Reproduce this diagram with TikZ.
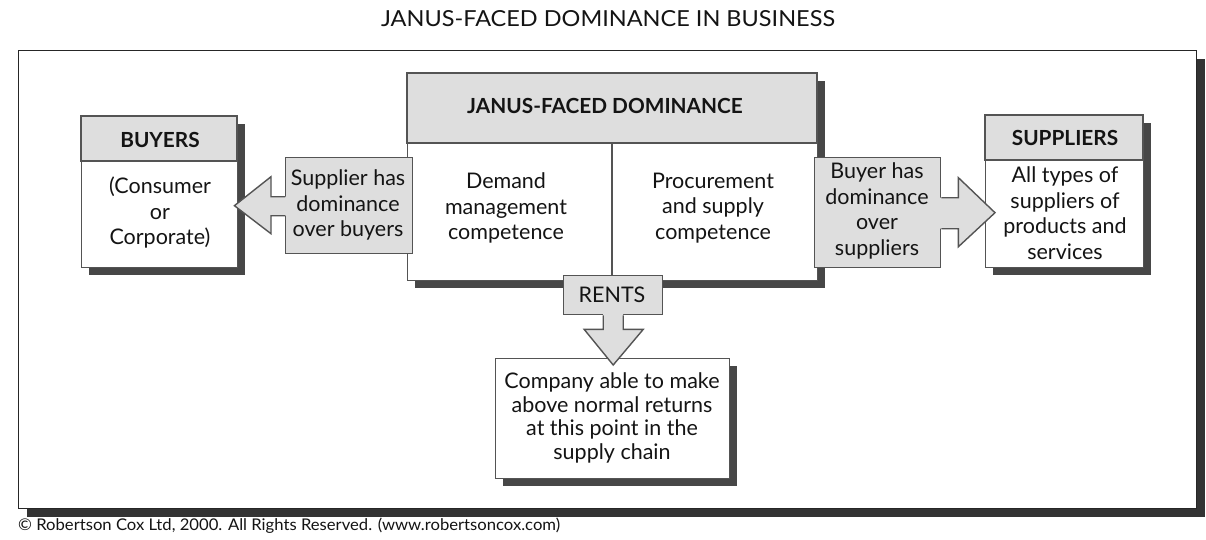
\documentclass[tikz,border=0pt]{standalone}
\usepackage{fontspec}
\setmainfont{Lato}
\usetikzlibrary{calc,shadows}
\definecolor{hdr}{gray}{0.87}
\definecolor{shd}{gray}{0.28}
\definecolor{edge}{gray}{0.33}
\definecolor{ink}{gray}{0.08}
\tikzset{x=1pt,y=-1pt,
  box/.style={draw=edge,line width=1.4pt,fill=white,inner sep=0pt,anchor=north west},
  sbox/.style={box,drop shadow={shadow xshift=7pt,shadow yshift=-7pt,fill=shd,opacity=1}},
  hfill/.style={fill=hdr,draw=edge,line width=1.4pt},
  abox/.style={box,fill=hdr},
  txt/.style={font=\fontsize{21.5}{25.5}\selectfont,align=center,text=ink,inner sep=0pt},
  btxt/.style={font=\fontsize{20.8}{25}\selectfont\bfseries,text=ink,inner sep=0pt},
  arrline/.style={draw=edge,line width=1.4pt,line join=miter}}
\begin{document}
\begin{tikzpicture}
\useasboundingbox (0,0) rectangle (1206,540);
\fill[white] (0,0) rectangle (1206,540);
% title
\node[text=ink,inner sep=0pt] (title) at (608,19) {\resizebox{454pt}{16pt}{\fontsize{19}{22}\selectfont JANUS-FACED DOMINANCE IN BUSINESS}};
% outer frame
\node[box,draw=black!85,line width=1.2pt,minimum width=1178pt,minimum height=458pt,
  drop shadow={shadow xshift=8pt,shadow yshift=-8pt,fill=black!80,opacity=1}] (frame) at (18,50) {};
% central box
\node[sbox,minimum width=410pt,minimum height=207pt] (janus) at (407,73) {};
\draw[hfill] (janus.north west) rectangle (817,143);
\draw[draw=edge,line width=1.4pt] (612,143) -- (612,280);
\node[btxt] (jt) at (605,106) {JANUS-FACED DOMINANCE};
\node[txt] (dem) at (506,208) {Demand\\management\\competence};
\node[txt] (proc) at (713,208) {Procurement\\and supply\\competence};
% buyers
\node[sbox,minimum width=156pt,minimum height=151pt] (buyers) at (81,116) {};
\draw[hfill] (buyers.north west) rectangle (237,161);
\node[btxt] (bt) at (160,140) {BUYERS};
\node[txt] (bb) at (160,213) {(Consumer\\or\\Corporate)};
% suppliers
\node[sbox,minimum width=158pt,minimum height=152pt] (supp) at (985,115) {};
\draw[hfill] (supp.north west) rectangle (1143,160);
\node[btxt] (st) at (1065,138) {SUPPLIERS};
\node[txt] (sb) at (1065,213) {All types of\\suppliers of\\products and\\services};
% left arrow box
\node[abox,minimum width=127pt,minimum height=96pt] (supb) at (285,157) {};
\node[txt] (supt) at (348,205) {Supplier has\\dominance\\over buyers};
\path[fill=hdr] ($(supb.west)+(2,-9)$) -- ++(-16,0) -- ++(0,-20) -- ($(supb.west -| buyers.east)+(-4,0)$)
  -- ($(supb.west)+(-14,28)$) -- ++(0,-18) -- ++(16,0) -- cycle;
\draw[arrline] ($(supb.west)+(0,-9)$) -- ++(-14,0) -- ++(0,-20) -- ($(supb.west -| buyers.east)+(-4,0)$)
  -- ($(supb.west)+(-14,28)$) -- ++(0,-18) -- ++(14,0);
% right arrow box
\node[abox,minimum width=126pt,minimum height=110pt] (buyb) at (814,157) {};
\node[txt] (buyt) at (877,211) {Buyer has\\dominance\\over\\suppliers};
\path[fill=hdr] ($(buyb.east)+(-2,-15)$) -- ++(19,0) -- ++(0,-20) -- ($(buyb.east -| supp.west)+(10,0)$)
  -- ($(buyb.east)+(17,34)$) -- ++(0,-18) -- ++(-19,0) -- cycle;
\draw[arrline] ($(buyb.east)+(0,-15)$) -- ++(17,0) -- ++(0,-20) -- ($(buyb.east -| supp.west)+(10,0)$)
  -- ($(buyb.east)+(17,34)$) -- ++(0,-18) -- ++(-17,0);
% rents
\node[abox,minimum width=99pt,minimum height=39pt] (rents) at (563,275) {};
\node[txt] (rt) at (612,295) {RENTS};
% company box
\node[sbox,minimum width=234pt,minimum height=120pt] (comp) at (495,358) {};
\node[txt,font=\fontsize{21.5}{23.5}\selectfont] (ct) at (612,418) {Company able to make\\above normal returns\\at this point in the\\supply chain};
% down arrow
\path[fill=hdr] ($(rents.south)+(-10,-2)$) -- ++(0,16) -- ++(-19,0) -- ($(rents.south |- comp.north)+(0,7)$)
  -- ($(rents.south)+(30,14)$) -- ++(-20,0) -- ++(0,-16) -- cycle;
\draw[arrline] ($(rents.south)+(-10,0)$) -- ++(0,14) -- ++(-19,0) -- ($(rents.south |- comp.north)+(0,7)$)
  -- ($(rents.south)+(30,14)$) -- ++(-20,0) -- ++(0,-14);
% copyright
\node[text=ink,inner sep=0pt,anchor=west] (copy) at (18,526) {\resizebox{542pt}{12.5pt}{\fontsize{14}{16}\selectfont \textcopyright{} Robertson Cox Ltd, 2000. All Rights Reserved. (www.robertsoncox.com)}};
\end{tikzpicture}
\end{document}
